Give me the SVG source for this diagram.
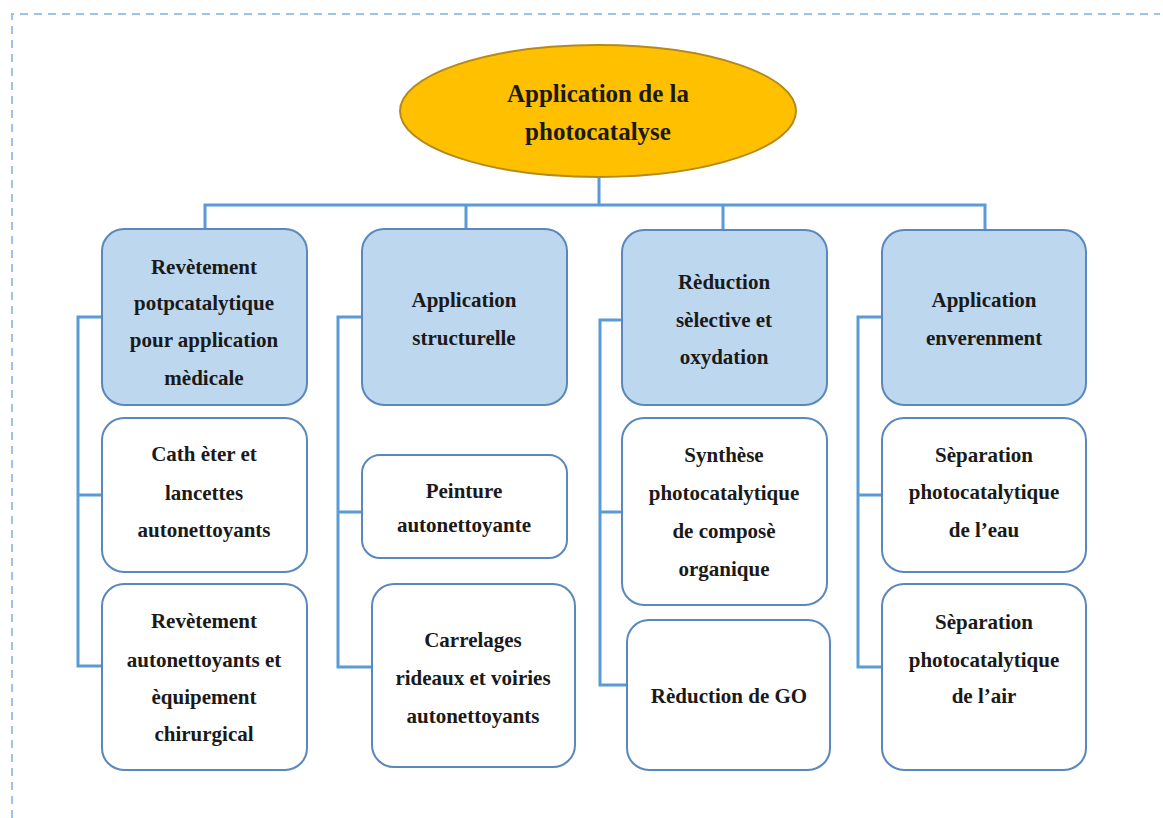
<svg xmlns="http://www.w3.org/2000/svg" width="1163" height="818" viewBox="0 0 1163 818">
<style>
.t{font-family:"Liberation Serif","Times New Roman",serif;font-weight:bold;font-size:21px;fill:#1a1a1a;text-anchor:middle}
.tt{font-family:"Liberation Serif","Times New Roman",serif;font-weight:bold;font-size:25px;fill:#1a1a1a;text-anchor:middle}
.h{fill:#bdd7ee;stroke:#5a87bd;stroke-width:2}
.c{fill:#ffffff;stroke:#5a87bd;stroke-width:2}
.ln{fill:none;stroke:#5b9bd5;stroke-width:3}
</style>
<rect width="1163" height="818" fill="#ffffff"/>
<path d="M12 818 V14 H1160" fill="none" stroke="#9dc3e6" stroke-width="2" stroke-dasharray="8 6"/>
<g id="connectors">
<path class="ln" d="M599 177 V205 M205 229 V205 H985 V230 M466 205 V229 M723 205 V230"/>
<path class="ln" d="M102 317 H78 V666 H102 M78 495 H102"/>
<path class="ln" d="M362 317 H338 V667 H372 M338 512 H362"/>
<path class="ln" d="M622 320 H600 V685 H627 M600 512 H622"/>
<path class="ln" d="M882 317 H858 V667 H882 M858 495 H882"/>
</g>
<g id="root">
<ellipse cx="598" cy="111" rx="198" ry="66" fill="#ffc000" stroke="#b48a1c" stroke-width="2"/>
<text class="tt" x="598" y="102">Application de la</text>
<text class="tt" x="598" y="140">photocatalyse</text>
</g>
<g id="n1">
<rect class="h" x="102" y="229" width="205" height="176" rx="22"/>
<text class="t" x="204" y="274">Revètement</text>
<text class="t" x="204" y="310">potpcatalytique</text>
<text class="t" x="204" y="347">pour application</text>
<text class="t" x="204" y="385">mèdicale</text>
</g>
<g id="n1a">
<rect class="c" x="102" y="418" width="205" height="154" rx="22"/>
<text class="t" x="204" y="461">Cath èter et</text>
<text class="t" x="204" y="500">lancettes</text>
<text class="t" x="204" y="537">autonettoyants</text>
</g>
<g id="n1b">
<rect class="c" x="102" y="584" width="205" height="186" rx="22"/>
<text class="t" x="204" y="628">Revètement</text>
<text class="t" x="204" y="667">autonettoyants et</text>
<text class="t" x="204" y="704">èquipement</text>
<text class="t" x="204" y="741">chirurgical</text>
</g>
<g id="n2">
<rect class="h" x="362" y="229" width="205" height="176" rx="22"/>
<text class="t" x="464" y="307">Application</text>
<text class="t" x="464" y="345">structurelle</text>
</g>
<g id="n2a">
<rect class="c" x="362" y="455" width="205" height="103" rx="18"/>
<text class="t" x="464" y="498">Peinture</text>
<text class="t" x="464" y="532">autonettoyante</text>
</g>
<g id="n2b">
<rect class="c" x="372" y="584" width="203" height="183" rx="22"/>
<text class="t" x="473" y="647">Carrelages</text>
<text class="t" x="473" y="685">rideaux et voiries</text>
<text class="t" x="473" y="723">autonettoyants</text>
</g>
<g id="n3">
<rect class="h" x="622" y="230" width="205" height="175" rx="22"/>
<text class="t" x="724" y="289">Rèduction</text>
<text class="t" x="724" y="327">sèlective et</text>
<text class="t" x="724" y="364">oxydation</text>
</g>
<g id="n3a">
<rect class="c" x="622" y="418" width="205" height="187" rx="22"/>
<text class="t" x="724" y="462">Synthèse</text>
<text class="t" x="724" y="500">photocatalytique</text>
<text class="t" x="724" y="538">de composè</text>
<text class="t" x="724" y="576">organique</text>
</g>
<g id="n3b">
<rect class="c" x="627" y="620" width="203" height="150" rx="22"/>
<text class="t" x="729" y="703">Rèduction de GO</text>
</g>
<g id="n4">
<rect class="h" x="882" y="230" width="204" height="175" rx="22"/>
<text class="t" x="984" y="307">Application</text>
<text class="t" x="984" y="345">enverenment</text>
</g>
<g id="n4a">
<rect class="c" x="882" y="418" width="204" height="154" rx="22"/>
<text class="t" x="984" y="462">Sèparation</text>
<text class="t" x="984" y="499">photocatalytique</text>
<text class="t" x="984" y="537">de l’eau</text>
</g>
<g id="n4b">
<rect class="c" x="882" y="584" width="204" height="186" rx="22"/>
<text class="t" x="984" y="629">Sèparation</text>
<text class="t" x="984" y="667">photocatalytique</text>
<text class="t" x="984" y="703">de l’air</text>
</g>
</svg>
